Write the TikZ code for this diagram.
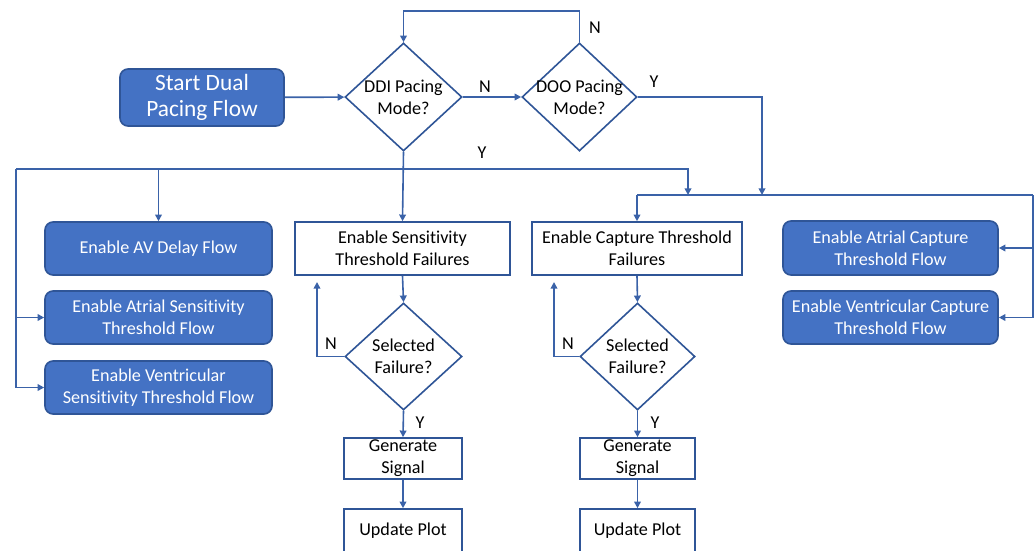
\documentclass[tikz,border=0pt]{standalone}
\usepackage{fontspec}
\setmainfont[Ligatures=NoCommon]{Carlito}
\usetikzlibrary{arrows.meta,shapes.geometric}
\definecolor{fillblue}{HTML}{4472C4}
\definecolor{edgeblue}{HTML}{2F5597}
\definecolor{lineblue}{HTML}{3A62A8}
\newcommand{\zb}[1]{\makebox[0pt]{#1}}
\tikzset{
  base/.style={inner sep=0pt, align=center, font=\fontsize{13.6pt}{16.5pt}\selectfont, line width=1.2pt},
  bluebox/.style={base, rectangle, rounded corners=6pt, fill=fillblue, draw=edgeblue, text=white},
  whitebox/.style={base, rectangle, fill=white, draw=edgeblue, text=black},
  decision/.style={base, diamond, aspect=1.08, fill=white, draw=edgeblue, text=black},
  arr/.style={draw=lineblue, line width=1.2pt, -{Triangle[length=5pt,width=5pt]}},
  ln/.style={draw=lineblue, line width=1.2pt},
  lbl/.style={font=\fontsize{13.6pt}{15pt}\selectfont, text=black, inner sep=0pt}
}
\begin{document}
\begin{tikzpicture}[x=0.75pt,y=-0.75pt]
\useasboundingbox (0,0) rectangle (1035,550);
% nodes
\node[bluebox, minimum width=123pt, minimum height=42.75pt, font=\fontsize{17.5pt}{20pt}\selectfont] (start) at (202,97.5) {Start Dual\\Pacing Flow};
\node[decision, minimum width=87.75pt, minimum height=81pt] (ddi) at (403.5,97) {\zb{DDI Pacing}\\\zb{Mode?}};
\node[decision, minimum width=86.25pt, minimum height=81pt] (doo) at (579.5,97) {\zb{DOO Pacing}\\\zb{Mode?}};
\node[bluebox, minimum width=170.25pt, minimum height=39.75pt] (avd) at (158.5,248.5) {Enable AV Delay Flow};
\node[bluebox, minimum width=170.25pt, minimum height=39.75pt] (asens) at (158.5,317.5) {Enable Atrial Sensitivity\\Threshold Flow};
\node[bluebox, minimum width=170.25pt, minimum height=39.75pt] (vsens) at (158.5,387.5) {Enable Ventricular\\Sensitivity Threshold Flow};
\node[whitebox, minimum width=161.25pt, minimum height=39.75pt] (sens) at (402.5,248.5) {Enable Sensitivity\\Threshold Failures};
\node[whitebox, minimum width=157.5pt, minimum height=39.75pt] (cap) at (637,248.5) {Enable Capture Threshold\\Failures};
\node[bluebox, minimum width=161.25pt, minimum height=40.5pt] (acap) at (890.5,248) {Enable Atrial Capture\\Threshold Flow};
\node[bluebox, minimum width=161.25pt, minimum height=39.75pt] (vcap) at (890.5,317.5) {Enable Ventricular Capture\\Threshold Flow};
\node[decision, minimum width=87.75pt, minimum height=80.25pt] (sel1) at (403.5,356.5) {\zb{Selected}\\\zb{Failure?}};
\node[decision, minimum width=86.25pt, minimum height=80.25pt] (sel2) at (637.5,356.5) {\zb{Selected}\\\zb{Failure?}};
\node[whitebox, minimum width=88.5pt, minimum height=30.75pt] (gen1) at (403,458.5) {\zb{Generate}\\\zb{Signal}};
\node[whitebox, minimum width=88.5pt, minimum height=32.25pt] (upd1) at (403,530.5) {Update Plot};
\node[whitebox, minimum width=86.25pt, minimum height=30.75pt] (gen2) at (637.5,458.5) {\zb{Generate}\\\zb{Signal}};
\node[whitebox, minimum width=86.25pt, minimum height=32.25pt] (upd2) at (637.5,530.5) {Update Plot};
% helper coordinates
\coordinate (topr) at (579.5,11);
\coordinate (yj) at (762,195);
\coordinate (hl) at (403.5,169);
\coordinate (hr) at (688,195);
\coordinate (lft) at (16,169);
\coordinate (r1) at (1033,195);
\coordinate (n1) at (317,282);
\coordinate (n2) at (554,282);
% connectors
\draw[arr] (start) -- (ddi);
\draw[arr] (ddi) -- (doo);
\draw[arr] (doo.north) -- (topr) -| (ddi.north);
\draw[arr] (doo.east) -| (yj);
\draw[arr] (ddi.south) -- (sens.north);
\draw[arr] (hl) -| (hr);
\draw[ln] (hl) -- (lft);
\draw[arr] (avd.north |- hl) -- (avd.north);
\draw[arr] (lft) |- (asens.west);
\draw[arr] (lft) |- (vsens.west);
\draw[ln] (cap.north |- r1) -- (r1);
\draw[arr] (cap.north |- r1) -- (cap.north);
\draw[arr] (r1) |- (acap.east);
\draw[arr] (r1) |- (vcap.east);
\draw[arr] (sens.south) -- (sel1.north);
\draw[arr] (sel1.south) -- (gen1.north);
\draw[arr] (gen1.south) -- (upd1.north);
\draw[arr] (sel1.west) -| (n1);
\draw[arr] (cap.south) -- (sel2.north);
\draw[arr] (sel2.south) -- (gen2.north);
\draw[arr] (gen2.south) -- (upd2.north);
\draw[arr] (sel2.west) -| (n2);
% labels
\node[lbl] (l1) at (485,87) {N};
\node[lbl] (l2) at (595,28) {N};
\node[lbl] (l3) at (654,82) {Y};
\node[lbl] (l4) at (482,153) {Y};
\node[lbl] (l5) at (331,344) {N};
\node[lbl] (l6) at (568,344) {N};
\node[lbl] (l7) at (420,423) {Y};
\node[lbl] (l8) at (655,423) {Y};
\end{tikzpicture}
\end{document}
